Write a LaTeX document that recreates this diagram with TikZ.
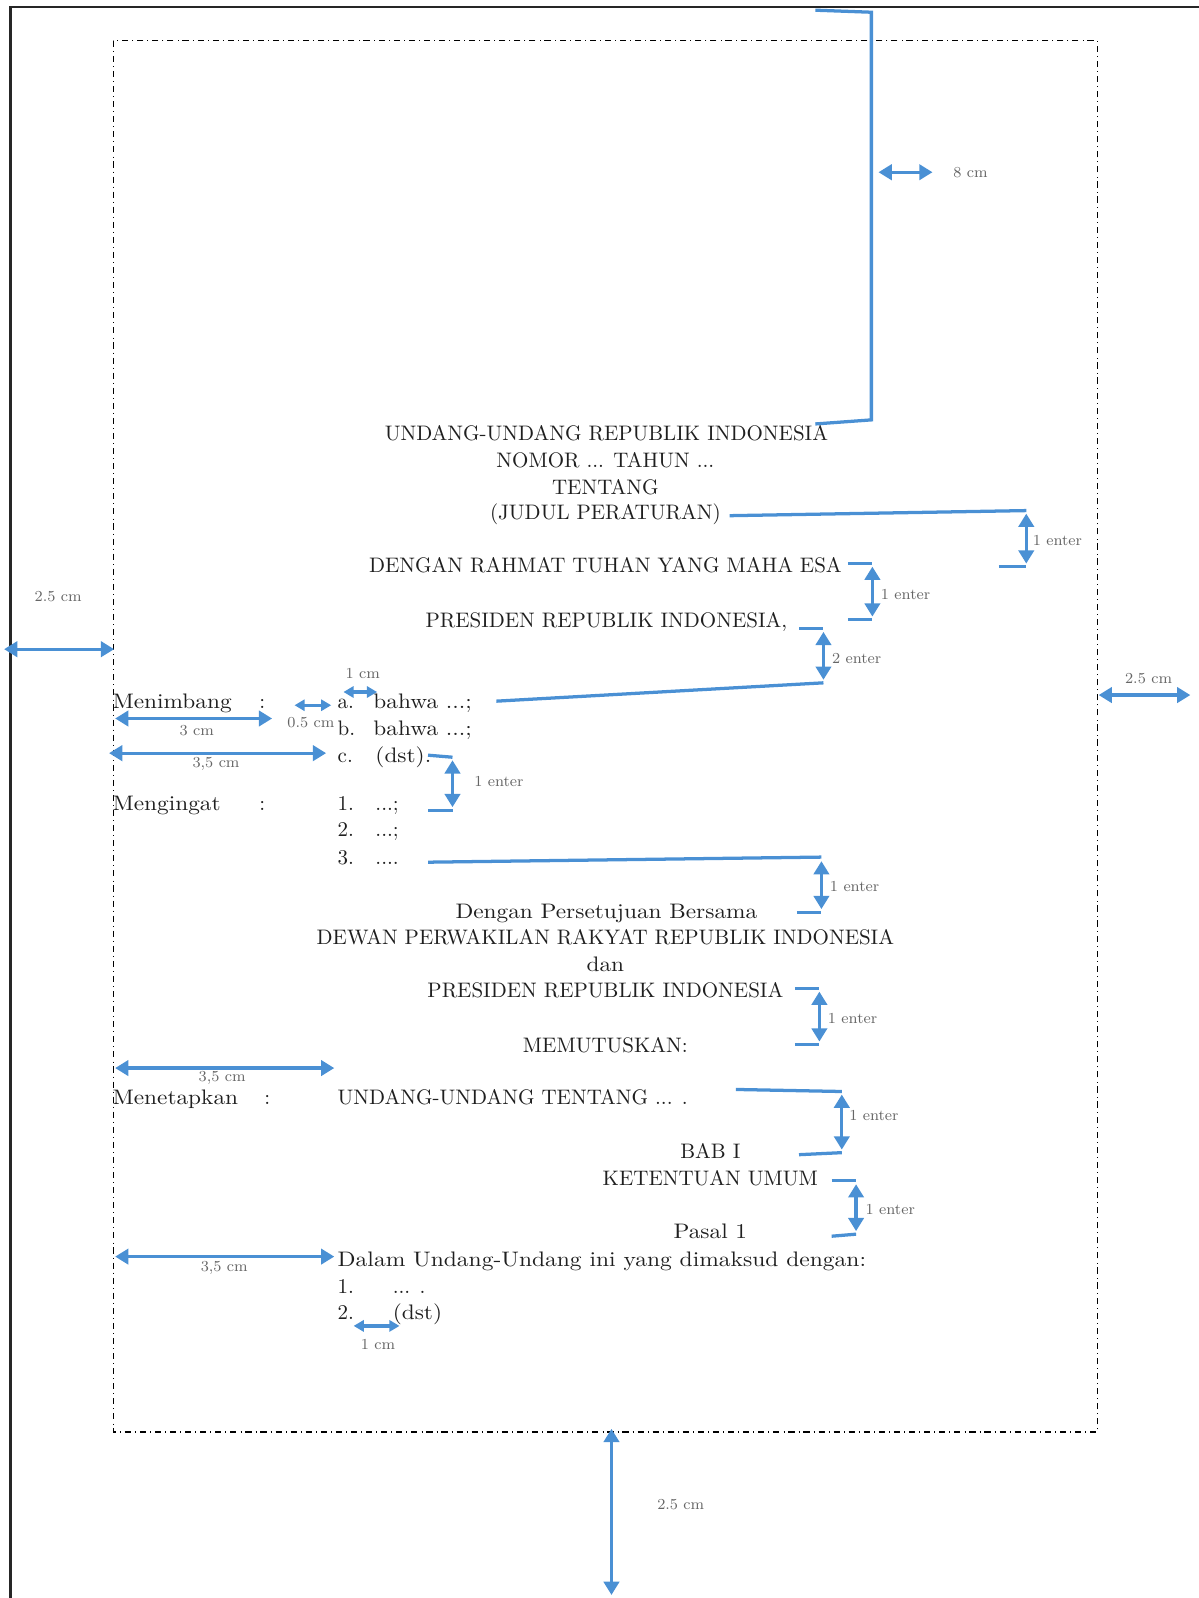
\documentclass[tikz,border=0pt]{standalone}
\usetikzlibrary{arrows.meta}
\definecolor{mblue}{RGB}{74,144,212}
\newcommand\mixw[1]{\scalebox{1.11}[1]{#1}}
\begin{document}
\begin{tikzpicture}[x=0.5pt,y=-0.5pt,
  txt/.style={font=\fontsize{10.3}{12}\selectfont, inner sep=0pt, text=black!88, anchor=base},
  ltxt/.style={txt, anchor=base west},
  lbl/.style={font=\fontsize{7.5}{9}\selectfont, text=black!60, inner sep=0pt},
  bl/.style={draw=mblue, line width=1.6pt},
  dimarrow/.style={bl, {Triangle[width=7.5pt,length=6.5pt]}-{Triangle[width=7.5pt,length=6.5pt]}},
  smallarrow/.style={bl, {Triangle[width=5.5pt,length=5pt]}-{Triangle[width=5.5pt,length=5pt]}}]
\useasboundingbox (0,0) rectangle (1176,1568);
% page frame
\coordinate (fbl) at (10,1568);
\coordinate (ftl) at (10,7);
\coordinate (ftr) at (1176,7);
\draw[line width=1.3pt, black!85] (fbl) -- (ftl) -- (ftr);
% margin box
\coordinate (mtl) at (111,40);
\coordinate (mbr) at (1077,1405);
\draw[dash dot, line width=0.6pt] (mtl) rectangle (mbr);

% top bracket
\coordinate (tb1) at (800,10);
\coordinate (tb2) at (855,12);
\coordinate (tb3) at (855,412);
\coordinate (tb4) at (800,416);
\draw[bl] (tb1) -- (tb2) -- (tb3) -- (tb4);
\coordinate (e8a) at (862,169);
\coordinate (e8b) at (915,169);
\draw[dimarrow] (e8a) -- (e8b);
\node[lbl, anchor=west] (l8) at (935,169) {8 cm};

% title
\node[txt] (t1) at (595,432) {UNDANG-UNDANG REPUBLIK INDONESIA};
\node[txt] (t2) at (594,459) {NOMOR ... TAHUN ...};
\node[txt] (t3) at (594,485) {TENTANG};
\node[txt] (t4) at (594,510) {(JUDUL PERATURAN)};
\node[txt] (d1) at (594,562) {DENGAN RAHMAT TUHAN YANG MAHA ESA};
\node[txt] (p1) at (595,616) {PRESIDEN REPUBLIK INDONESIA,};

% bracket 1
\coordinate (b1a) at (716,506); \coordinate (b1b) at (1007,501);
\coordinate (b1c) at (980,556); \coordinate (b1d) at (1007,556);
\coordinate (b1u) at (1007,504); \coordinate (b1l) at (1007,553);
\draw[bl] (b1a) -- (b1b); \draw[bl] (b1c) -- (b1d);
\draw[dimarrow] (b1u) -- (b1l);
\node[lbl, anchor=west] (lb1) at (1013,530) {1 enter};
% bracket 2
\coordinate (b2a) at (832,553); \coordinate (b2b) at (856,553);
\coordinate (b2c) at (832,608); \coordinate (b2d) at (856,608);
\coordinate (b2u) at (856,556); \coordinate (b2l) at (856,605);
\draw[bl] (b2a) -- (b2b); \draw[bl] (b2c) -- (b2d);
\draw[dimarrow] (b2u) -- (b2l);
\node[lbl, anchor=west] (lb2) at (864,583) {1 enter};
% bracket 3
\coordinate (b3a) at (784,617); \coordinate (b3b) at (808,617);
\coordinate (b3c) at (487,688); \coordinate (b3d) at (808,670);
\coordinate (b3u) at (808,620); \coordinate (b3l) at (808,667);
\draw[bl] (b3a) -- (b3b); \draw[bl] (b3c) -- (b3d);
\draw[dimarrow] (b3u) -- (b3l);
\node[lbl, anchor=west] (lb3) at (816,646) {2 enter};

% Menimbang
\node[ltxt] (mnb) at (110,695) {\mixw{Menimbang}};
\node[ltxt] (mnbc) at (254,695) {:};
\node[ltxt] (ia) at (331,695) {a.};
\node[ltxt] (ta) at (366,695) {\mixw{bahwa ...;}};
\node[ltxt] (ib) at (331,722) {b.};
\node[ltxt] (tb) at (366,722) {\mixw{bahwa ...;}};
\node[ltxt] (ic) at (331,748) {c.};
\node[ltxt] (tc) at (368,748) {\mixw{(dst).}};
% dimension arrows Menimbang
\coordinate (m3a) at (113,705); \coordinate (m3b) at (267,705);
\draw[dimarrow] (m3a) -- (m3b);
\node[lbl] (lm3) at (193,717) {3 cm};
\coordinate (m35a) at (107,739); \coordinate (m35b) at (320,739);
\draw[dimarrow] (m35a) -- (m35b);
\node[lbl] (lm35) at (212,750) {3,5 cm};
\coordinate (m05a) at (289,692); \coordinate (m05b) at (325,692);
\draw[smallarrow] (m05a) -- (m05b);
\node[lbl] (lm05) at (305,709) {0.5 cm};
\coordinate (m1a) at (337,679); \coordinate (m1b) at (370,679);
\draw[smallarrow] (m1a) -- (m1b);
\node[lbl] (lm1) at (356,661) {1 cm};
% bracket 4
\coordinate (b4a) at (420,741); \coordinate (b4b) at (444,743);
\coordinate (b4c) at (420,795); \coordinate (b4d) at (444,795);
\coordinate (b4u) at (444,746); \coordinate (b4l) at (444,792);
\draw[bl] (b4a) -- (b4b); \draw[bl] (b4c) -- (b4d);
\draw[dimarrow] (b4u) -- (b4l);
\node[lbl, anchor=west] (lb4) at (465,767) {1 enter};

% Mengingat
\node[ltxt] (mng) at (110,795) {\mixw{Mengingat}};
\node[ltxt] (mngc) at (254,795) {:};
\node[ltxt] (i1) at (331,795) {1.};
\node[ltxt] (x1) at (368,795) {...;};
\node[ltxt] (i2) at (331,821) {2.};
\node[ltxt] (x2) at (368,821) {...;};
\node[ltxt] (i3) at (331,848) {3.};
\node[ltxt] (x3) at (368,848) {....};
% bracket 5
\coordinate (b5a) at (420,846); \coordinate (b5b) at (806,841);
\coordinate (b5c) at (782,895); \coordinate (b5d) at (806,895);
\coordinate (b5u) at (806,845); \coordinate (b5l) at (806,892);
\draw[bl] (b5a) -- (b5b); \draw[bl] (b5c) -- (b5d);
\draw[dimarrow] (b5u) -- (b5l);
\node[lbl, anchor=west] (lb5) at (814,870) {1 enter};

% Persetujuan
\node[txt] (dp) at (595,901) {\mixw{Dengan Persetujuan Bersama}};
\node[txt] (dw) at (594,927) {DEWAN PERWAKILAN RAKYAT REPUBLIK INDONESIA};
\node[txt] (dn) at (594,953) {\mixw{dan}};
\node[txt] (p2) at (594,979) {PRESIDEN REPUBLIK INDONESIA};
% bracket 6
\coordinate (b6a) at (780,970); \coordinate (b6b) at (804,970);
\coordinate (b6c) at (780,1025); \coordinate (b6d) at (804,1025);
\coordinate (b6u) at (804,973); \coordinate (b6l) at (804,1022);
\draw[bl] (b6a) -- (b6b); \draw[bl] (b6c) -- (b6d);
\draw[dimarrow] (b6u) -- (b6l);
\node[lbl, anchor=west] (lb6) at (812,999) {1 enter};
\node[txt] (mem) at (594,1033) {MEMUTUSKAN:};

% Menetapkan
\coordinate (n35a) at (113,1048); \coordinate (n35b) at (328,1048);
\draw[dimarrow] (n35a) -- (n35b);
\node[lbl] (ln35) at (218,1058) {3,5 cm};
\node[ltxt] (mtp) at (110,1084) {\mixw{Menetapkan}};
\node[ltxt] (mtpc) at (259,1084) {:};
\node[ltxt] (uut) at (331,1084) {UNDANG-UNDANG TENTANG ... .};
% bracket 7
\coordinate (b7a) at (722,1069); \coordinate (b7b) at (826,1071);
\coordinate (b7c) at (784,1133); \coordinate (b7d) at (826,1131);
\coordinate (b7u) at (826,1074); \coordinate (b7l) at (826,1128);
\draw[bl] (b7a) -- (b7b); \draw[bl] (b7c) -- (b7d);
\draw[dimarrow] (b7u) -- (b7l);
\node[lbl, anchor=west] (lb7) at (833,1095) {1 enter};

\node[txt] (bab) at (697,1137) {BAB I};
\node[txt] (ket) at (697,1163) {KETENTUAN UMUM};
% bracket 8
\coordinate (b8a) at (816,1158); \coordinate (b8b) at (840,1158);
\coordinate (b8c) at (816,1213); \coordinate (b8d) at (840,1211);
\coordinate (b8u) at (840,1162); \coordinate (b8l) at (840,1208);
\draw[bl] (b8a) -- (b8b); \draw[bl] (b8c) -- (b8d);
\draw[dimarrow] (b8u) -- (b8l);
\node[lbl, anchor=west] (lb8) at (849,1187) {1 enter};
\node[txt] (ps) at (697,1215) {\mixw{Pasal 1}};

% Pasal
\coordinate (q35a) at (113,1233); \coordinate (q35b) at (328,1233);
\draw[dimarrow] (q35a) -- (q35b);
\node[lbl] (lq35) at (220,1244) {3,5 cm};
\node[ltxt] (dl) at (331,1243) {\scalebox{1.12}[1]{Dalam Undang-Undang ini yang dimaksud dengan:}};
\node[ltxt] (j1) at (331,1269) {1.};
\node[ltxt] (y1) at (385,1269) {... .};
\node[ltxt] (j2) at (331,1295) {2.};
\node[ltxt] (y2) at (385,1295) {\mixw{(dst)}};
\coordinate (q1a) at (347,1301); \coordinate (q1b) at (392,1301);
\draw[smallarrow] (q1a) -- (q1b);
\node[lbl] (lq1) at (371,1319) {1 cm};

% margins
\coordinate (la) at (4,637); \coordinate (lb) at (112,637);
\draw[dimarrow] (la) -- (lb);
\node[lbl] (ll) at (57,585) {2.5 cm};
\coordinate (ra) at (1078,682); \coordinate (rb) at (1168,682);
\draw[dimarrow] (ra) -- (rb);
\node[lbl] (lr) at (1127,666) {2.5 cm};
\coordinate (ba) at (600,1402); \coordinate (bb) at (600,1565);
\draw[dimarrow] (ba) -- (bb);
\node[lbl] (lbt) at (668,1476) {2.5 cm};
\end{tikzpicture}
\end{document}
